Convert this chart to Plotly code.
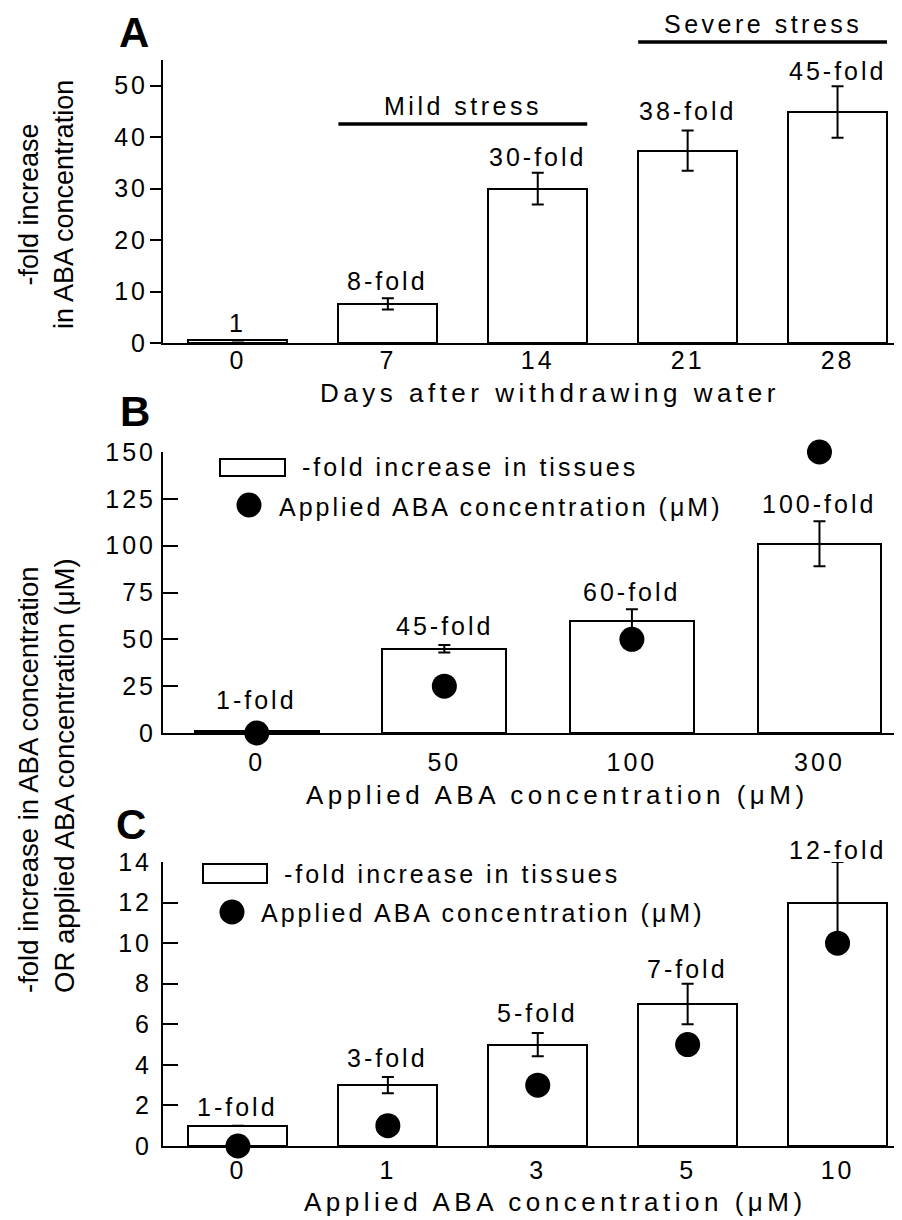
import plotly.graph_objects as go

# ---------------- data ----------------
# Panel A
days_A = ["0", "7", "14", "21", "28"]
fold_A = [0.5, 7.6, 30.0, 37.4, 44.9]
err_A = [0, 1.1, 3.1, 3.9, 5.0]
labels_A = ["1", "8-fold", "30-fold", "38-fold", "45-fold"]
yticks_A = [0, 10, 20, 30, 40, 50]

# Panel B
conc_B = ["0", "50", "100", "300"]
fold_B = [1, 45, 60, 101]
err_B = [0, 2, 6, 12]
applied_B = [0, 25, 50, 150]
labels_B = ["1-fold", "45-fold", "60-fold", "100-fold"]
yticks_B = [0, 25, 50, 75, 100, 125, 150]

# Panel C
conc_C = ["0", "1", "3", "5", "10"]
fold_C = [1, 3, 5, 7, 12]
err_C = [0, 0.4, 0.57, 1, 2]
applied_C = [0, 1, 3, 5, 10]
labels_C = ["1-fold", "3-fold", "5-fold", "7-fold", "12-fold"]
yticks_C = [0, 2, 4, 6, 8, 10, 12, 14]

# ---------------- style ----------------
OFF = 8              # page body margin
W, H = 902 - OFF, 1220 - OFF
FONT = "Liberation Sans, Arial, Helvetica, sans-serif"
BLACK = "black"
BAR_W = 0.66
label_shift_A = [17, 17, 16, 19, 15]
label_shift_B = [31, 19, 17, 17]
label_shift_C = [19, 19, 20, 15, 12]


def px(x):
    return (x - OFF) / W


def py(y):
    return 1 - (y - OFF) / H


def sp(t, ls=3):
    return f'<span style="letter-spacing:{ls}px">{t}</span>'


fig = go.Figure()


def add_panel(n, cats, vals, errs, dots=None):
    xs = list(range(len(cats)))
    xa = "x" if n == 1 else f"x{n}"
    ya = "y" if n == 1 else f"y{n}"
    fig.add_trace(go.Bar(
        x=xs, y=vals, width=BAR_W,
        marker=dict(color="white", line=dict(color=BLACK, width=2)),
        error_y=dict(type="data", array=errs, visible=True, color=BLACK,
                     thickness=2, width=6),
        xaxis=xa, yaxis=ya, showlegend=False,
    ))
    if dots is not None:
        fig.add_trace(go.Scatter(
            x=xs, y=dots, mode="markers",
            marker=dict(color=BLACK, size=25),
            cliponaxis=False, xaxis=xa, yaxis=ya, showlegend=False,
        ))


add_panel(1, days_A, fold_A, err_A)
add_panel(2, conc_B, fold_B, err_B, applied_B)
add_panel(3, conc_C, fold_C, err_C, applied_C)

xdom = [px(163), 1.0]
doms = {1: [py(343), py(60)], 2: [py(733), py(452)], 3: [py(1146), py(862)]}

tickfont = dict(family=FONT, size=25, color=BLACK)


def xaxis_cfg(n, cats, right, standoff):
    return dict(
        domain=xdom, anchor="y" if n == 1 else f"y{n}",
        range=[-0.5, right], tickvals=list(range(len(cats))),
        ticktext=[sp(c) for c in cats],
        showline=True, linecolor=BLACK, linewidth=2, ticks="",
        showgrid=False, zeroline=False, tickfont=tickfont,
        ticklabelstandoff=standoff,
    )


def yaxis_cfg(n, rng, tv, ticks, ticklen, standoff):
    return dict(
        domain=doms[n], anchor="x" if n == 1 else f"x{n}",
        range=rng, tickvals=tv, ticktext=[sp(v) for v in tv],
        showline=True, linecolor=BLACK, linewidth=2,
        ticks=ticks, ticklen=ticklen, tickwidth=2, tickcolor=BLACK,
        showgrid=False, zeroline=False, tickfont=tickfont,
        ticklabelstandoff=standoff,
    )


fig.update_layout(
    width=W, height=H,
    margin=dict(l=0, r=0, t=0, b=0, autoexpand=False),
    paper_bgcolor="white", plot_bgcolor="white",
    font=dict(family=FONT, color=BLACK, size=25),
    bargap=0,
    xaxis=xaxis_cfg(1, days_A, 4.43, -6),
    xaxis2=xaxis_cfg(2, conc_B, 3.44, 6),
    xaxis3=xaxis_cfg(3, conc_C, 4.43, 1),
    yaxis=yaxis_cfg(1, [0, 55], yticks_A, "outside", 11, -3),
    yaxis2=yaxis_cfg(2, [0, 150], yticks_B, "inside", 15, 0),
    yaxis3=yaxis_cfg(3, [0, 14], yticks_C, "inside", 15, 4),
)

annots = []
shapes = []


# bar value labels
def add_labels(n, vals, errs, labels, shifts):
    xa = "x" if n == 1 else f"x{n}"
    ya = "y" if n == 1 else f"y{n}"
    for i, (v, e, t, s) in enumerate(zip(vals, errs, labels, shifts)):
        annots.append(dict(x=i, y=v + e, xref=xa, yref=ya, text=sp(t),
                           showarrow=False, yanchor="middle", yshift=s,
                           font=dict(size=25)))


add_labels(1, fold_A, err_A, labels_A, label_shift_A)
add_labels(2, fold_B, err_B, labels_B, label_shift_B)
add_labels(3, fold_C, err_C, labels_C, label_shift_C)

# stress bars on panel A
stress = [("Mild stress", 1, 2, 0.774, 0.837), ("Severe stress", 3, 4, 1.064, 1.127)]
for text, i0, i1, yl, yt in stress:
    shapes.append(dict(type="line", xref="x", yref="y domain",
                       x0=i0 - BAR_W / 2, x1=i1 + BAR_W / 2, y0=yl, y1=yl,
                       line=dict(color=BLACK, width=3.5)))
    annots.append(dict(x=(i0 + i1) / 2, y=yt, xref="x", yref="y domain",
                       text=sp(text, 3.5), showarrow=False, yanchor="middle",
                       font=dict(size=25)))

# panel letters
for letter, cx, cy in [("A", 134, 32), ("B", 135, 411), ("C", 131, 824)]:
    annots.append(dict(x=px(cx), y=py(cy), xref="paper", yref="paper",
                       text=f"<b>{letter}</b>", showarrow=False,
                       xanchor="center", yanchor="middle",
                       font=dict(size=42)))

# x axis titles
for text, cx, cy in [("Days after withdrawing water", 550, 393),
                     ("Applied ABA concentration (\u03bcM)", 557, 795),
                     ("Applied ABA concentration (\u03bcM)", 555, 1202)]:
    annots.append(dict(x=px(cx), y=py(cy), xref="paper", yref="paper",
                       text=sp(text, 4.5), showarrow=False, xanchor="center",
                       yanchor="middle", font=dict(size=26)))

# y axis titles
annots.append(dict(x=px(46), y=py(205), xref="paper", yref="paper",
                   text="-fold increase<br>in ABA concentration",
                   textangle=-90, showarrow=False, xanchor="center",
                   yanchor="middle", font=dict(size=27)))
annots.append(dict(x=px(46), y=py(776), xref="paper", yref="paper",
                   text="-fold increase in ABA concentration<br>OR applied ABA concentration (\u03bcM)",
                   textangle=-90, showarrow=False, xanchor="center", align="left",
                   yanchor="middle", font=dict(size=27.5)))

# custom legends
legends = [
    # rect x0,x1,y0,y1 ; text1 x,y ; dot cx,cy ; text2 x,y
    ((220, 285, 459, 476), (300, 467), (249, 505), (277, 507)),
    ((203, 267, 864, 883), (282, 874), (232, 912), (259, 913)),
]
R = 12.5
for (x0, x1, y0, y1), (tx1, ty1), (dx, dy), (tx2, ty2) in legends:
    shapes.append(dict(type="rect", xref="paper", yref="paper",
                       x0=px(x0), x1=px(x1), y0=py(y1), y1=py(y0),
                       line=dict(color=BLACK, width=2), fillcolor="white"))
    shapes.append(dict(type="circle", xref="paper", yref="paper",
                       x0=px(dx - R), x1=px(dx + R), y0=py(dy + R), y1=py(dy - R),
                       line=dict(color=BLACK, width=0), fillcolor=BLACK))
    annots.append(dict(x=px(tx1), y=py(ty1), xref="paper", yref="paper",
                       text=sp("-fold increase in tissues"), showarrow=False,
                       xanchor="left", yanchor="middle", font=dict(size=25)))
    annots.append(dict(x=px(tx2), y=py(ty2), xref="paper", yref="paper",
                       text=sp("Applied ABA concentration (\u03bcM)"), showarrow=False,
                       xanchor="left", yanchor="middle", font=dict(size=25)))

fig.update_layout(annotations=annots, shapes=shapes)

fig.write_html("out.html")
